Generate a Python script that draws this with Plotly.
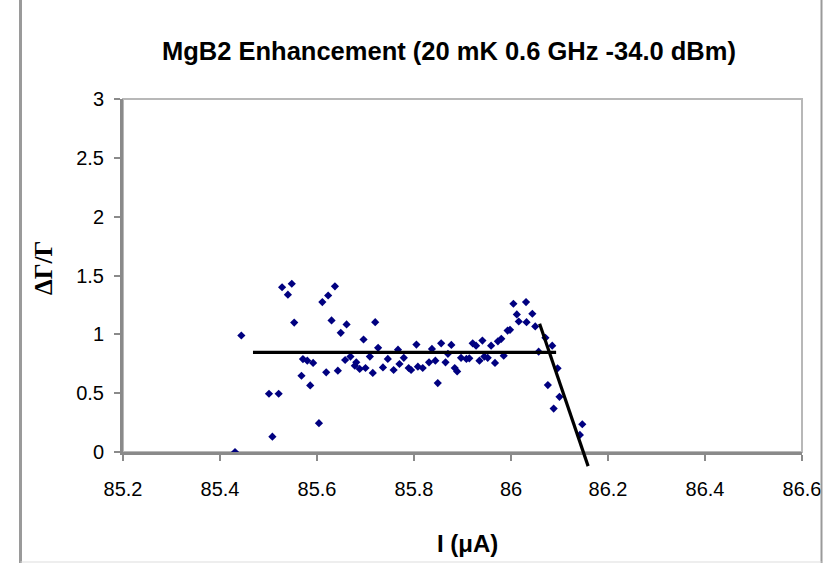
import plotly.graph_objects as go

# ---------------- data ----------------
current_uA = [
    85.431, 85.444, 85.501, 85.521, 85.508, 85.528, 85.548, 85.540, 85.553, 85.568,
    85.571, 85.580, 85.592, 85.586, 85.604, 85.611, 85.623, 85.637, 85.630, 85.619,
    85.643, 85.649, 85.661, 85.658, 85.669, 85.678, 85.681, 85.688, 85.700, 85.696,
    85.709, 85.715, 85.720, 85.726, 85.736, 85.746, 85.758, 85.767, 85.770, 85.779,
    85.789, 85.794, 85.805, 85.808, 85.818, 85.831, 85.837, 85.844, 85.849, 85.856,
    85.865, 85.870, 85.877, 85.884, 85.889, 85.897, 85.908, 85.914, 85.921, 85.928,
    85.935, 85.941, 85.945, 85.952, 85.959, 85.967, 85.973, 85.980, 85.985, 85.993,
    85.998, 86.005, 86.012, 86.016, 86.031, 86.032, 86.044, 86.050, 86.057, 86.071,
    86.085, 86.096, 86.076, 86.100, 86.088, 86.147, 86.142,
]
enhancement = [
    0.000, 0.990, 0.495, 0.495, 0.130, 1.400, 1.430, 1.337, 1.100, 0.648,
    0.790, 0.776, 0.757, 0.566, 0.245, 1.274, 1.330, 1.408, 1.118, 0.677,
    0.691, 1.013, 1.084, 0.782, 0.811, 0.734, 0.762, 0.706, 0.714, 0.956,
    0.811, 0.672, 1.103, 0.885, 0.719, 0.791, 0.697, 0.870, 0.748, 0.800,
    0.714, 0.697, 0.913, 0.725, 0.714, 0.762, 0.876, 0.776, 0.586, 0.924,
    0.762, 0.834, 0.910, 0.714, 0.685, 0.800, 0.791, 0.796, 0.924, 0.904,
    0.776, 0.947, 0.811, 0.800, 0.904, 0.757, 0.941, 0.962, 0.819, 1.032,
    1.038, 1.260, 1.169, 1.109, 1.274, 1.103, 1.175, 1.067, 0.853, 0.970,
    0.904, 0.711, 0.569, 0.469, 0.369, 0.236, 0.145,
]

flat_fit_x = [85.468, 86.093]
flat_fit_y = [0.847, 0.847]
drop_fit_x = [86.059, 86.159]
drop_fit_y = [1.09, -0.12]

x_tick_vals = [85.2, 85.4, 85.6, 85.8, 86.0, 86.2, 86.4, 86.6]
x_tick_text = ["85.2", "85.4", "85.6", "85.8", "86", "86.2", "86.4", "86.6"]
y_tick_vals = [0, 0.5, 1, 1.5, 2, 2.5, 3]
y_tick_text = ["0", "0.5", "1", "1.5", "2", "2.5", "3"]

chart_title = "MgB2 Enhancement (20 mK 0.6 GHz -34.0 dBm)"
x_title = "I (\u03bcA)"
y_title = "\u0394\u0393/\u0393"

x_range = [85.2, 86.6]
y_range = [0, 3]

# ---------------- layout geometry ----------------
FIG_W, FIG_H = 832, 563
L, R, T = 123, 30, 99
ZERO_PX = 452          # pixel row of y = 0
EXTRA_PX = 16          # room below the axis for the steep fit line
BOTTOM_PX = ZERO_PX + EXTRA_PX
B = FIG_H - BOTTOM_PX
W = FIG_W - L - R
H = BOTTOM_PX - T

main_dom_bottom = EXTRA_PX / H
units_per_px = (y_range[1] - y_range[0]) / (ZERO_PX - T)
y2_range = [y_range[0] - EXTRA_PX * units_per_px, y_range[1]]


def pxx(p):
    return (p - L) / W


def pxy(p):
    return (BOTTOM_PX - p) / H


SANS = "Liberation Sans, Arial, sans-serif"
SERIF = "Liberation Serif, Times New Roman, serif"
AXIS_GREY = "#8a8a8a"

fig = go.Figure()

fig.add_trace(go.Scatter(
    x=current_uA, y=enhancement, mode="markers",
    marker=dict(symbol="diamond", size=6.3, color="#000080",
                line=dict(width=0)),
    xaxis="x", yaxis="y", showlegend=False, hoverinfo="skip",
))

for fx, fy in ((flat_fit_x, flat_fit_y), (drop_fit_x, drop_fit_y)):
    fig.add_trace(go.Scatter(
        x=fx, y=fy, mode="lines", line=dict(color="black", width=3.2),
        xaxis="x2", yaxis="y2", showlegend=False, hoverinfo="skip",
    ))

fig.update_layout(
    width=FIG_W, height=FIG_H,
    margin=dict(l=L, r=R, t=T, b=B, pad=0),
    paper_bgcolor="white",
    plot_bgcolor="rgba(0,0,0,0)",
    showlegend=False,
    xaxis=dict(
        domain=[0, 1], range=x_range, anchor="y",
        showgrid=False, zeroline=False,
        showline=True, linecolor=AXIS_GREY, linewidth=3,
        ticks="outside", ticklen=6, tickwidth=2, tickcolor=AXIS_GREY,
        tickvals=x_tick_vals, ticktext=x_tick_text,
        tickfont=dict(family=SANS, size=20, color="black"),
        ticklabelstandoff=11,
    ),
    yaxis=dict(
        domain=[main_dom_bottom, 1], range=y_range, anchor="x",
        showgrid=False, zeroline=False,
        showline=True, linecolor=AXIS_GREY, linewidth=3,
        ticks="outside", ticklen=6, tickwidth=2, tickcolor=AXIS_GREY,
        tickvals=y_tick_vals, ticktext=y_tick_text,
        tickfont=dict(family=SANS, size=20, color="black"),
        ticklabelstandoff=6,
    ),
    xaxis2=dict(domain=[0, 1], range=x_range, anchor="y2", visible=False),
    yaxis2=dict(domain=[0, 1], range=y2_range, anchor="x2", visible=False),
    shapes=[
        # plot area outline (top / right)
        dict(type="rect", xref="paper", yref="paper",
             x0=0, x1=1, y0=main_dom_bottom, y1=1,
             line=dict(color="#b8b8b8", width=2), layer="below"),
        # outer chart frame
        dict(type="line", xref="paper", yref="paper",
             x0=pxx(20.5), x1=pxx(20.5), y0=pxy(0), y1=pxy(FIG_H),
             line=dict(color="#9a9a9a", width=3)),
        dict(type="line", xref="paper", yref="paper",
             x0=pxx(821.5), x1=pxx(821.5), y0=pxy(0), y1=pxy(FIG_H),
             line=dict(color="#9a9a9a", width=2)),
        dict(type="line", xref="paper", yref="paper",
             x0=pxx(20.5), x1=pxx(821.5), y0=pxy(562), y1=pxy(562),
             line=dict(color="#dddddd", width=1)),
    ],
    annotations=[
        dict(text="<b>" + chart_title + "</b>", xref="paper", yref="paper",
             x=pxx(448.5), y=pxy(51), xanchor="center", yanchor="middle",
             showarrow=False, font=dict(family=SANS, size=25.5, color="black")),
        dict(text="<b>" + x_title + "</b>", xref="paper", yref="paper",
             x=pxx(467), y=pxy(543), xanchor="center", yanchor="middle",
             showarrow=False, font=dict(family=SANS, size=24, color="black")),
        dict(text="<b>" + y_title + "</b>", xref="paper", yref="paper",
             x=pxx(43), y=pxy(268), xanchor="center", yanchor="middle",
             textangle=-90, showarrow=False,
             font=dict(family=SERIF, size=25, color="black")),
    ],
)

fig.write_html(
    "out.html",
    config={"displayModeBar": False},
    post_script="document.body.style.margin='0';document.body.style.overflow='hidden';",
)
